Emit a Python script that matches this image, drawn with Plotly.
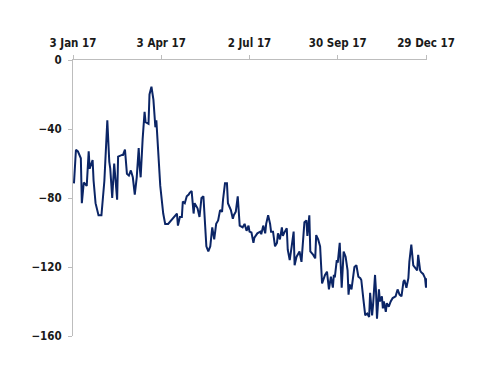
import pandas as pd
import plotly.graph_objects as go

# days since 3 Jan 2017
day_offset = [1, 3, 5, 8, 9, 11, 14, 16, 17, 20, 21, 23, 26, 29, 32, 35, 37, 38, 40, 42,
              45, 46, 50, 51, 53, 55, 57, 59, 61, 63, 65, 67, 68, 69, 71, 73, 74, 77, 78, 80,
              82, 84, 85, 87, 89, 92, 94, 97, 100, 103, 106, 107, 109, 111, 112, 114, 116, 118, 119, 121,
              123, 124, 127, 129, 131, 133, 135, 136, 138, 140, 142, 144, 146, 148, 150, 152, 153, 155, 157, 158,
              161, 163, 164, 166, 168, 170, 173, 175, 177, 179, 180, 182, 184, 185, 188, 191, 192, 194, 196, 197,
              199, 201, 202, 204, 206, 208, 209, 211, 213, 214, 216, 218, 219, 221, 223, 225, 226, 228, 230, 231,
              233, 235, 236, 238, 239, 241, 242, 245, 247, 248, 250, 252, 253, 254, 257, 259, 261, 263, 265, 266,
              267, 269, 270, 272, 274, 276, 278, 280, 281, 282, 284, 286, 287, 289, 291, 293, 294, 296, 298, 300,
              302, 303, 305, 306, 308, 309, 310, 312, 313, 315, 316, 317, 319, 320, 322, 324, 326, 329, 331, 333,
              335, 337, 338, 340, 342, 343, 345, 347, 350, 351, 352, 354, 355, 357, 359, 360, 361]
values = [-71.5, -52, -53, -57, -83, -71, -73, -53, -63, -58, -70, -83, -90, -90, -70, -35, -59, -63, -80, -60,
          -81, -56, -55, -55, -52, -66, -67, -64, -68, -78, -68, -51, -62, -68, -46, -30, -36, -37, -20, -15.5,
          -23, -39, -35, -54, -73, -89, -95, -95, -93, -91, -89, -96, -91, -91, -82, -83, -79, -78, -77, -76,
          -89, -83, -86, -91, -80, -79, -95, -108, -111, -108, -97, -104, -95, -93, -87, -88, -81, -71.5, -71.5, -83,
          -87, -92, -90, -88, -79, -96, -97, -95, -99, -96, -99.5, -100, -106, -103, -100.5, -99.5, -101, -96, -100.5, -95,
          -90, -95, -99.5, -99.5, -108, -106, -100.5, -104, -97, -102, -99.5, -97.5, -110, -116, -108, -99.5, -119, -114, -112, -111,
          -117, -100.5, -94, -93, -102, -90, -111, -113, -115, -101.5, -104, -108, -120, -129.5, -124.6, -122.7, -133, -125.6, -132, -124.6,
          -126, -116, -117.5, -106, -132, -111, -114, -122, -136, -130, -133, -125.6, -120, -119, -125.6, -126.5, -127.5, -138, -148, -147,
          -149, -135, -148, -142, -124.6, -134, -150, -133, -140, -137, -144, -140, -146, -141, -143, -140, -138, -137, -133, -136,
          -137, -128.5, -127.5, -132, -126.5, -117, -107, -119, -121, -122, -113, -122, -123, -124, -126.5, -132, -126.5]

tick_dates = ["2017-01-03", "2017-04-03", "2017-07-02", "2017-09-30", "2017-12-29"]
tick_labels = ["3 Jan 17", "3 Apr 17", "2 Jul 17", "30 Sep 17", "29 Dec 17"]
y_ticks = [0, -40, -80, -120, -160]

dates = pd.Timestamp("2017-01-03") + pd.to_timedelta(day_offset, unit="D")

fig = go.Figure(go.Scatter(x=dates, y=values, mode="lines",
                           line=dict(color="#0b2566", width=2)))

font = dict(family="DejaVu Sans Condensed, DejaVu Sans", size=11.5, color="#1a1a1a", weight="bold")

fig.update_layout(
    width=500, height=386,
    margin=dict(l=65, r=81, t=52, b=58),
    paper_bgcolor="white", plot_bgcolor="white",
    showlegend=False,
    xaxis=dict(side="top", range=["2017-01-03", "2017-12-30"], automargin=False,
               tickvals=tick_dates, ticktext=tick_labels,
               showgrid=False, zeroline=False, showline=True, linecolor="#bdbdbd", linewidth=1,
               ticks="outside", ticklen=4, tickcolor="#bdbdbd", tickfont=font,
               ticklabelstandoff=3),
    yaxis=dict(range=[-160, 0], tickvals=y_ticks, automargin=False,
               showgrid=False, zeroline=False, showline=True, linecolor="#bdbdbd", linewidth=1,
               ticks="outside", ticklen=4, tickcolor="#bdbdbd", tickfont=font,
               ticklabelstandoff=4),
)

fig.write_html("out.html")
